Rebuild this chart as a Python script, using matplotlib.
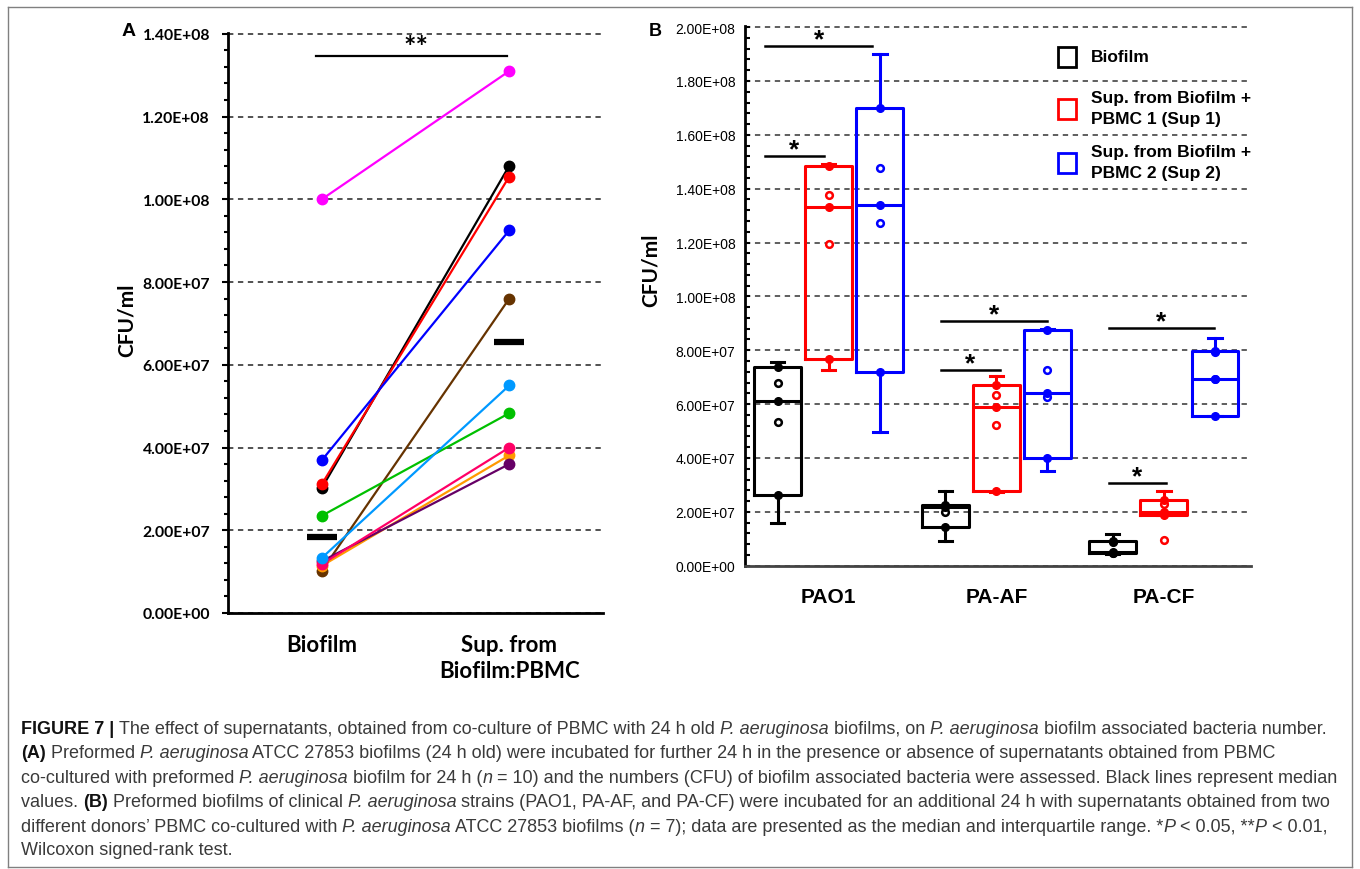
import numpy as np
import matplotlib
matplotlib.use('Agg')
import matplotlib.pyplot as plt
from matplotlib.ticker import MultipleLocator, FuncFormatter
from matplotlib.patches import Rectangle
from matplotlib.lines import Line2D

# ---- panel A data (paired, n = 10) ----
a_groups = ['Biofilm', 'Sup. from\nBiofilm:PBMC']
a_colors = ['#ff00ff', '#663300', '#ff9900', '#660066', '#ff0066',
            '#00c000', '#000000', '#ff0000', '#0000ff', '#0099ff']
a_biofilm = [1.00e8, 1.02e7, 1.14e7, 1.25e7, 1.18e7,
             2.35e7, 3.02e7, 3.11e7, 3.69e7, 1.33e7]
a_sup = [1.31e8, 7.60e7, 3.81e7, 3.60e7, 4.00e7,
         4.83e7, 1.081e8, 1.055e8, 9.25e7, 5.50e7]

# ---- panel B data (n = 7 per box) ----
b_strains = ['PAO1', 'PA-AF', 'PA-CF']
b_series = ['Biofilm', 'Sup. from Biofilm +\nPBMC 1 (Sup 1)', 'Sup. from Biofilm +\nPBMC 2 (Sup 2)']
b_colors = ['#000000', '#ff0000', '#0000ff']
b_biofilm = [[1.58e7, 2.62e7, 5.32e7, 6.12e7, 6.80e7, 7.36e7, 7.57e7],
             [0.93e7, 1.42e7, 1.98e7, 2.17e7, 2.21e7, 2.26e7, 2.78e7],
             [0.44e7, 0.47e7, 0.48e7, 0.50e7, 0.87e7, 0.90e7, 1.18e7]]
b_sup1 = [[7.27e7, 7.67e7, 11.96e7, 13.32e7, 13.77e7, 14.84e7, 14.90e7],
          [2.72e7, 2.76e7, 5.22e7, 5.91e7, 6.35e7, 6.72e7, 7.03e7],
          [0.96e7, 1.89e7, 1.95e7, 1.98e7, 2.30e7, 2.45e7, 2.76e7]]
b_sup2 = [[4.95e7, 7.18e7, 12.72e7, 13.39e7, 14.77e7, 17.01e7, 19.01e7],
          [3.53e7, 4.00e7, 6.26e7, 6.41e7, 7.27e7, 8.76e7, 8.80e7],
          [5.55e7, 5.57e7, 6.93e7, 6.93e7, 7.95e7, 7.98e7, 8.47e7]]

W, H = 1360, 870
fig = plt.figure(figsize=(W / 100, H / 100), dpi=100)

def px_rect(l, t, r, b):
    return [l / W, 1 - b / H, (r - l) / W, (b - t) / H]

def fx(x):
    return x / W

def fy(y):
    return 1 - y / H

sci = FuncFormatter(lambda v, p: f'{v:.2E}')
dash = (0, (3.5, 3))

# ================= panel A =================
axA = fig.add_axes(px_rect(228, 34, 603, 614))
for c, b, s in zip(a_colors, a_biofilm, a_sup):
    axA.plot([1, 2], [b, s], color=c, lw=1.6, marker='o', ms=7.5,
             mfc=c, mec=c, zorder=3)
for i, vals in enumerate([a_biofilm, a_sup]):
    m = np.median(vals)
    axA.plot([i + 1 - 0.08, i + 1 + 0.08], [m, m], color='k', lw=4.5,
             solid_capstyle='butt', zorder=4)

axA.plot([0.97, 1.99], [1.347e8, 1.347e8], color='k', lw=1.6)
axA.text(1.5, 1.368e8, '**', ha='center', va='center', fontsize=21,
         fontweight='bold', family='Lato')

axA.set_xlim(0.5, 2.5)
axA.set_ylim(0, 1.402e8)
axA.yaxis.set_major_locator(MultipleLocator(2e7))
axA.yaxis.set_minor_locator(MultipleLocator(4e6))
axA.yaxis.set_major_formatter(sci)
axA.yaxis.grid(True, ls=dash, color='#222222', lw=1.1)
axA.set_axisbelow(True)
axA.set_xticks([1, 2])
axA.set_xticklabels(a_groups, fontsize=16, fontweight='bold', family='Lato')
for lbl in axA.get_xticklabels():
    lbl.set_linespacing(1.3)
axA.tick_params(axis='x', length=0, pad=15)
axA.tick_params(axis='y', which='major', length=4, width=1.5, labelsize=11.3, pad=9)
axA.tick_params(axis='y', which='minor', length=3, width=1.5)
for lbl in axA.get_yticklabels():
    lbl.set_fontweight('bold')
    lbl.set_family('Lato')
for sp in ['top', 'right']:
    axA.spines[sp].set_visible(False)
for sp in ['left', 'bottom']:
    axA.spines[sp].set_linewidth(2)
fig.text(fx(127), fy(320), 'CFU/ml', rotation=90, ha='center', va='center',
         fontsize=15, fontweight='bold', family='Lato')
fig.text(fx(129), fy(32), 'A', ha='center', va='center', fontsize=14,
         fontweight='bold', family='Liberation Sans')

# ================= panel B =================
bfont = 'Liberation Sans'
axB = fig.add_axes(px_rect(745, 27.3, 1251, 566.7))
offsets = [-0.305, 0.0, 0.305]

def box_stats(vals):
    v = np.sort(np.asarray(vals))
    q1, med, q3 = np.percentile(v, [25, 50, 75], method='weibull')
    iqr = q3 - q1
    lo, hi = q1 - 1.5 * iqr, q3 + 1.5 * iqr
    inner = v[(v >= lo) & (v <= hi)]
    return dict(med=med, q1=q1, q3=q3, whislo=inner.min(), whishi=inner.max(),
                fliers=v[(v < lo) | (v > hi)])

for k, (series, c) in enumerate(zip([b_biofilm, b_sup1, b_sup2], b_colors)):
    for g, vals in enumerate(series):
        x = g + offsets[k]
        st = box_stats(vals)
        lp = dict(color=c, lw=2.2)
        axB.bxp([st], positions=[x], widths=0.28, capwidths=0.08,
                showfliers=False, boxprops=lp, whiskerprops=lp, capprops=lp,
                medianprops=lp, manage_ticks=False)
        for v in vals:
            if min(abs(v - st[q]) for q in ('q1', 'med', 'q3')) < 1e5:
                axB.plot(x, v, 'o', ms=5.5, mfc=c, mec=c, zorder=4)
            elif v in (st['whislo'], st['whishi']):
                continue
            else:
                axB.plot(x, v, 'o', ms=4.8, mfc='white', mec=c, mew=1.8, zorder=4)

# significance bars (x0, x1, y)
b_sig = [(-0.38, -0.03, 1.52e8), (-0.38, 0.26, 1.93e8),
         (0.67, 1.02, 7.26e7), (0.67, 1.30, 9.08e7),
         (1.67, 2.01, 3.08e7), (1.67, 2.30, 8.81e7)]
for x0, x1, y in b_sig:
    axB.plot([x0, x1], [y, y], color='k', lw=1.8)
    axB.text((x0 + x1) / 2, y + 0.25e7, '*', ha='center', va='center',
             fontsize=19, fontweight='bold', family=bfont)

axB.set_xlim(-0.5, 2.52)
axB.set_ylim(0, 2.003e8)
axB.yaxis.set_major_locator(MultipleLocator(2e7))
axB.yaxis.set_minor_locator(MultipleLocator(4e6))
axB.yaxis.set_major_formatter(sci)
axB.yaxis.grid(True, ls=dash, color='#333333', lw=1.1)
axB.set_axisbelow(True)
axB.set_xticks(range(3))
axB.set_xticklabels(b_strains, fontsize=15, fontweight='bold', family=bfont)
axB.tick_params(axis='x', length=0, pad=15)
axB.tick_params(axis='y', which='both', direction='in', length=3.5, width=1.5,
                labelsize=10, pad=7)
for lbl in axB.get_yticklabels():
    lbl.set_family(bfont)
for sp in ['top', 'right']:
    axB.spines[sp].set_visible(False)
axB.spines['left'].set_linewidth(2)
axB.spines['bottom'].set_linewidth(2)
axB.spines['bottom'].set_color('#444444')
fig.text(fx(651), fy(270), 'CFU/ml', rotation=90, ha='center', va='center',
         fontsize=15, fontweight='bold', family='Lato')
fig.text(fx(655), fy(32), 'B', ha='center', va='center', fontsize=13,
         fontweight='bold', family='Liberation Sans')

# legend drawn in figure pixels
leg_y = [58, 110, 164]
for name, c, y in zip(b_series, b_colors, leg_y):
    fig.add_artist(Rectangle((fx(1058), fy(y + 10)), 18 / W, 20 / H,
                             transform=fig.transFigure, fill=False,
                             edgecolor=c, lw=2))
    fig.text(fx(1091), fy(y - 1), name, ha='left', va='center', fontsize=12.5,
             fontweight='bold', family=bfont, linespacing=1.55)

# ================= caption =================
cap_lines = [
    [('FIGURE 7 | ', 'b'), ('The effect of supernatants, obtained from co-culture of PBMC with 24 h old ', ''),
     ('P. aeruginosa', 'i'), (' biofilms, on ', ''), ('P. aeruginosa', 'i'),
     (' biofilm associated bacteria number.', '')],
    [('(A)', 'b'), (' Preformed ', ''), ('P. aeruginosa', 'i'),
     (' ATCC 27853 biofilms (24 h old) were incubated for further 24 h in the presence or absence of supernatants obtained from PBMC', '')],
    [('co-cultured with preformed ', ''), ('P. aeruginosa', 'i'), (' biofilm for 24 h (', ''), ('n', 'i'),
     (' = 10) and the numbers (CFU) of biofilm associated bacteria were assessed. Black lines represent median', '')],
    [('values. ', ''), ('(B)', 'b'), (' Preformed biofilms of clinical ', ''), ('P. aeruginosa', 'i'),
     (' strains (PAO1, PA-AF, and PA-CF) were incubated for an additional 24 h with supernatants obtained from two', '')],
    [('different donors\u2019 PBMC co-cultured with ', ''), ('P. aeruginosa', 'i'), (' ATCC 27853 biofilms (', ''),
     ('n', 'i'), (' = 7); data are presented as the median and interquartile range. *', ''), ('P', 'i'),
     (' < 0.05, **', ''), ('P', 'i'), (' < 0.01,', '')],
    [('Wilcoxon signed-rank test.', '')],
]
cap_y = [734, 758, 783, 807, 832, 855]
renderer = fig.canvas.get_renderer()
for parts, y in zip(cap_lines, cap_y):
    x = 21
    for s, st in parts:
        kw = dict(fontsize=13.0, family='Liberation Sans',
                  fontweight='bold' if 'b' in st else 'normal',
                  fontstyle='italic' if 'i' in st else 'normal',
                  color='#111111' if 'b' in st else '#3a3a3a')
        fig.text(fx(x), fy(y), s, ha='left', va='baseline', **kw)
        p1 = fig.text(0, 0, s + '|', **kw)
        p2 = fig.text(0, 0, '|', **kw)
        x += p1.get_window_extent(renderer).width - p2.get_window_extent(renderer).width
        p1.remove()
        p2.remove()

# outer frame
frame = dict(color='#808080', lw=1, transform=fig.transFigure)
fig.add_artist(Line2D([fx(8), fx(8)], [fy(8), fy(868)], **frame))
fig.add_artist(Line2D([fx(8), fx(1352)], [fy(8), fy(8)], **frame))
fig.add_artist(Line2D([fx(1352), fx(1352)], [fy(8), fy(868)], **frame))
fig.add_artist(Line2D([fx(8), fx(1352)], [fy(868), fy(868)], **frame))

fig.savefig('out.png', dpi=100)
